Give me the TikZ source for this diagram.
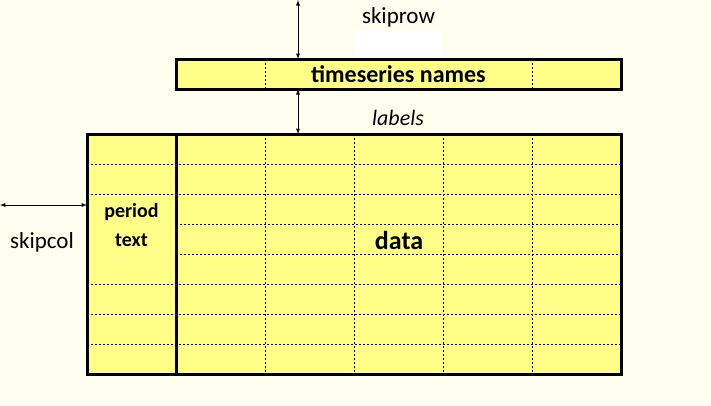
\documentclass[tikz,border=0pt]{standalone}
\usepackage{fontspec}
\setmainfont{Carlito}
\definecolor{hintergrund}{RGB}{255,255,240}
\definecolor{zellgelb}{RGB}{255,255,136}

\begin{document}
\begin{tikzpicture}[x=1pt,y=-1pt,
  gitter/.style={line width=0.8pt, dash pattern=on 2pt off 2pt},
  rahmen/.style={line width=3pt},
  pfeil/.style={<->, >=latex, line width=0.9pt},
  beschriftung/.style={font=\fontsize{23}{25}\selectfont, inner sep=0pt}]

%HINTERGRUND
\fill [hintergrund] (0,0) rectangle (711,405);
\useasboundingbox (0,0) rectangle (711,405);

%TABELLE (DATEN + PERIODENSPALTE)
\fill [zellgelb] (87,134) rectangle (621,374);

%ZEILEN (gestrichelt)
\draw [gitter] (87,164) -- (621,164);
\draw [gitter] (87,194) -- (621,194);
\draw [gitter] (176,224) -- (621,224);
\draw [gitter] (176,254) -- (621,254);
\draw [gitter] (87,284) -- (621,284);
\draw [gitter] (87,314) -- (621,314);
\draw [gitter] (87,344) -- (621,344);

%SPALTEN (gestrichelt)
\draw [gitter] (265.5,134) -- (265.5,374);
\draw [gitter] (354.5,134) -- (354.5,374);
\draw [gitter] (443.5,134) -- (443.5,374);
\draw [gitter] (532.5,134) -- (532.5,374);

%RAHMEN
\draw [rahmen] (87,134) rectangle (621,374);
\draw [rahmen] (87,134) rectangle (176,374);

%KOPFZEILE
\fill [zellgelb] (176,59) rectangle (621,89);
\draw [gitter] (265.5,59) -- (265.5,89);
\draw [gitter] (532.5,59) -- (532.5,89);
\draw [rahmen] (176,59) rectangle (621,89);
\node [font=\bfseries\fontsize{24}{26}\selectfont, fill=zellgelb, inner sep=1pt, minimum width=200pt] (namen) at (398.5,74) {timeseries names};

%TEXTE IN DER TABELLE
\node [font=\bfseries\fontsize{26}{28}\selectfont, inner sep=0pt] (daten) at (399,240) {data};
\node [font=\bfseries\fontsize{20}{22}\selectfont, inner sep=0pt] (periode) at (131.5,212) {period};
\node [font=\bfseries\fontsize{20}{22}\selectfont, inner sep=0pt] (text) at (131.5,240) {text};

%WEISSES FELD UNTER SKIPROW
\fill [white] (355,30) rectangle (443,56);

%BESCHRIFTUNGEN
\node [beschriftung] (skiprow) at (398.5,17) {skiprow};
\node [beschriftung, font=\itshape\fontsize{22}{24}\selectfont] (labels) at (398,118) {labels};
\node [beschriftung] (skipcol) at (42,242) {skipcol};

%PFEILE
\coordinate (oben) at (298,0);
\coordinate (kopfoben) at (298,59);
\coordinate (kopfunten) at (298,89);
\coordinate (tabelleoben) at (298,134);
\coordinate (links) at (0,205);
\coordinate (tabellelinks) at (87,205);
\draw [pfeil] (oben) -- (kopfoben);
\draw [pfeil] (kopfunten) -- (tabelleoben);
\draw [pfeil] (links) -- (tabellelinks);

\end{tikzpicture}
\end{document}
